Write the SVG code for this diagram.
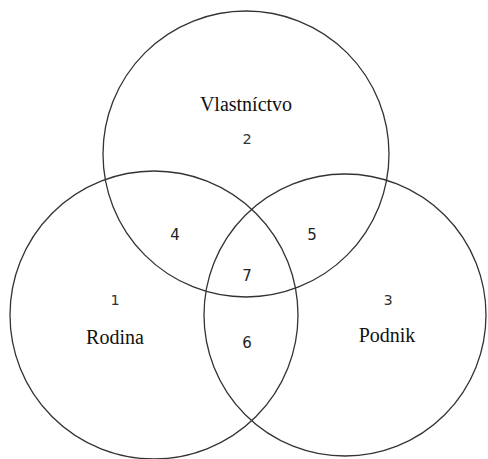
<svg xmlns="http://www.w3.org/2000/svg" width="488" height="459" viewBox="0 0 488 459">
<style>
.c{fill:none;stroke:#333;stroke-width:1.3}
.t{font-family:"Liberation Serif",serif;font-size:20px;fill:#111;text-anchor:middle}
.n{font-family:"DejaVu Sans",sans-serif;font-size:15px;fill:#222;text-anchor:middle}
.m{font-family:"DejaVu Sans",sans-serif;font-size:14.5px;fill:#333;text-anchor:middle}
</style>
<rect width="488" height="459" fill="#fff"/>
<g id="vlastnictvo">
<circle class="c" cx="246" cy="154" r="143"/>
<text class="t" x="246" y="111">Vlastníctvo</text>
<text class="m" x="247" y="144">2</text>
</g>
<g id="rodina">
<circle class="c" cx="154" cy="315" r="144"/>
<text class="m" x="115" y="305">1</text>
<text class="t" x="115" y="344">Rodina</text>
</g>
<g id="podnik">
<circle class="c" cx="345" cy="315" r="141"/>
<text class="m" x="388" y="305">3</text>
<text class="t" x="387" y="342">Podnik</text>
</g>
<g id="regions">
<text class="n" x="175" y="240">4</text>
<text class="n" x="312" y="240">5</text>
<text class="n" x="247" y="281">7</text>
<text class="n" x="247" y="348">6</text>
</g>
</svg>
